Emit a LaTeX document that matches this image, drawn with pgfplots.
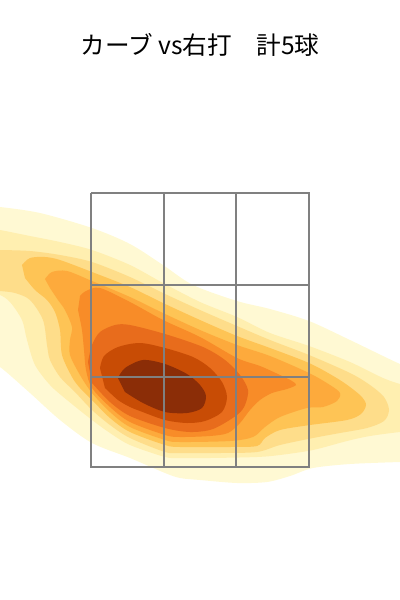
\documentclass[border=0pt]{standalone}
\usepackage{pgfplots}
\pgfplotsset{compat=1.18}
\usepackage{fontspec}
\newfontfamily\cjk{Noto Sans CJK JP}
\definecolor{c1}{HTML}{FFF9D3}
\definecolor{c2}{HTML}{FFEFB0}
\definecolor{c3}{HTML}{FEDD8A}
\definecolor{c4}{HTML}{FEC455}
\definecolor{c5}{HTML}{FDAA3C}
\definecolor{c6}{HTML}{F88C28}
\definecolor{c7}{HTML}{E86C1C}
\definecolor{c8}{HTML}{C84C05}
\definecolor{c9}{HTML}{8B2D07}
\definecolor{zone}{HTML}{808080}
\begin{document}
\begin{tikzpicture}
\begin{axis}[
  scale only axis, width=10cm, height=15cm,
  xmin=0, xmax=400, ymin=0, ymax=600, y dir=reverse,
  hide axis, clip=true,
]
% level 1
\addplot[fill=c1, draw=none, smooth, tension=0.5] coordinates {
(-10,207) (0,207) (40,213) (92,228) (130,244) (163,265) (193,285) (237,301) (270,309) (309,321) (350,340) (400,364) (410,366)
(410,462) (400,462) (350,464) (313,468) (290,476) (267,482) (237,483) (200,480) (180,478) (165,473) (130,458) (92,443) (60,420) (30,393) (0,367) (-10,365)} -- cycle;
% level 2
\addplot[fill=c2, draw=none, smooth, tension=0.5] coordinates {
(-10,229) (0,230) (30,236) (60,242) (92,250) (130,265) (163,283) (200,302) (237,317) (270,333) (309,346) (350,362) (383,378) (400,384) (410,386)
(410,432) (400,432) (370,436) (347,441) (313,450) (280,455) (257,457) (210,458) (180,458) (165,457) (130,445) (110,433) (92,420) (67,400) (50,385) (35,365) (27,340) (22,320) (10,302) (0,295) (-10,294)} -- cycle;
% level 3
\addplot[fill=c3, draw=none, smooth, tension=0.5] coordinates {
(-10,250) (0,250) (30,251) (60,255) (92,262) (130,277) (163,293) (200,310) (237,326) (270,340) (309,355) (350,373) (370,385) (384,397) (389,410) (384,421) (367,428) (340,433) (313,438) (280,445) (257,452) (220,453) (180,453) (165,452) (130,438) (110,425) (92,410) (75,392) (60,377) (50,360) (47,345) (43,320) (30,300) (15,293) (0,291) (-10,290)} -- cycle;
% level 4
\addplot[fill=c4, draw=none, smooth, tension=0.5] coordinates {
(22,265) (30,258) (45,257) (60,260) (92,272) (130,287) (163,303) (200,320) (237,336) (270,348) (309,363) (335,377) (350,387) (362,397) (366,405) (361,414) (347,420) (310,425) (280,430) (265,438) (257,446) (230,447) (180,447) (165,445) (130,432) (110,418) (92,400) (80,388) (72,377) (62,355) (60,330) (55,312) (47,300) (35,290) (25,278)} -- cycle;
% level 5
\addplot[fill=c5, draw=none, smooth, tension=0.5] coordinates {
(45,279) (52,272) (67,271) (92,281) (130,297) (163,313) (200,330) (237,345) (270,356) (309,373) (330,385) (340,393) (337,401) (323,407) (307,408) (280,417) (265,427) (253,437) (230,441) (180,442) (165,440) (130,427) (110,412) (92,393) (80,375) (70,355) (70,340) (72,327) (65,310) (58,300) (50,288)} -- cycle;
% level 6
\addplot[fill=c6, draw=none, smooth, tension=0.5] coordinates {
(80,296) (86,291) (100,288) (130,302) (163,320) (200,337) (237,358) (260,366) (280,375) (292,381) (296,385) (287,389) (272,393) (260,400) (250,410) (240,423) (228,433) (210,436) (180,437) (165,435) (130,422) (110,407) (92,388) (86,370) (84,350) (82,330) (78,310)} -- cycle;
% level 7
\addplot[fill=c7, draw=none, smooth, tension=0.5] coordinates {
(88,362) (92,345) (100,332) (115,325) (130,325) (165,334) (203,347) (225,360) (240,375) (248,390) (245,405) (237,415) (213,429) (190,432) (165,428) (130,416) (110,402) (92,383)} -- cycle;
% level 8
\addplot[fill=c8, draw=none, smooth, tension=0.5] coordinates {
(100,368) (104,356) (118,347) (140,343) (165,348) (193,357) (210,368) (222,382) (227,397) (222,412) (205,421) (187,423) (165,420) (140,411) (130,407) (118,400) (105,388)} -- cycle;
% level 9
\addplot[fill=c9, draw=none, smooth, tension=0.5] coordinates {
(118,378) (125,368) (143,360) (165,364) (187,374) (200,385) (206,396) (202,408) (187,413) (165,412) (143,403) (125,392)} -- cycle;
% strike zone
\addplot[zone, line width=1.1pt] coordinates {(91,193) (309,193) (309,467) (91,467) (91,193)};
\addplot[zone, line width=1.1pt] coordinates {(164,193) (164,467)};
\addplot[zone, line width=1.1pt] coordinates {(236,193) (236,467)};
\addplot[zone, line width=1.1pt] coordinates {(91,285) (309,285)};
\addplot[zone, line width=1.1pt] coordinates {(91,377) (309,377)};
\node[font=\cjk\fontsize{17.5}{21}\selectfont] at (axis cs:200,45) {カーブ vs右打　計5球};
\path (rel axis cs:0,0) rectangle (rel axis cs:1,1);
\end{axis}
\end{tikzpicture}
\end{document}
